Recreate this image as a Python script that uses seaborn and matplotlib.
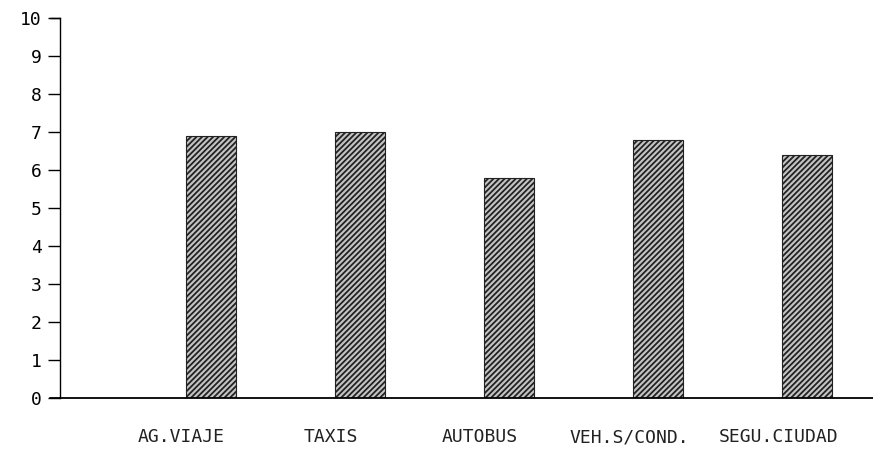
import seaborn as sns
import pandas as pd
import matplotlib.pyplot as plt
from matplotlib.transforms import ScaledTranslation

# values
categorias = ['AG.VIAJE', 'TAXIS', 'AUTOBUS', 'VEH.S/COND.', 'SEGU.CIUDAD']
valores = [6.9, 7.0, 5.8, 6.8, 6.4]
y_ticks = list(range(0, 11))

df = pd.DataFrame({'cat': categorias, 'val': valores})

sns.set_style('white')
plt.rcParams['font.family'] = ['DejaVu Sans Mono']
plt.rcParams['hatch.linewidth'] = 1.3

fig = plt.figure(figsize=(8.73, 4.57), dpi=100)
ax = fig.add_axes([60 / 873, 59 / 457, 813 / 873, 380 / 457])

sns.barplot(data=df, x='cat', y='val', ax=ax, width=0.335,
            color='#c4c4c4', edgecolor='#222222', linewidth=0.8,
            hatch='//////', saturation=1)

ax.set_xlim(-1.01, 4.44)
ax.set_ylim(0, 10)
ax.set_xlabel('')
ax.set_ylabel('')

ax.set_yticks(y_ticks)
ax.set_yticklabels([str(t) for t in y_ticks], fontsize=13, color='#222222')
ax.tick_params(axis='y', direction='out', length=9, width=1, pad=4, left=True, colors='black')
ax.tick_params(axis='x', length=0, pad=32, labelsize=13)

# labels sit a little left of the bars in the original
offset = ScaledTranslation(-29 / 100, 0, fig.dpi_scale_trans)
for lab in ax.get_xticklabels():
    lab.set_transform(lab.get_transform() + offset)
    lab.set_verticalalignment('baseline')
    lab.set_color('#222222')

for s in ['top', 'right']:
    ax.spines[s].set_visible(False)
ax.spines['left'].set_color('black')
ax.spines['left'].set_linewidth(1)
ax.spines['bottom'].set_color('black')
ax.spines['bottom'].set_linewidth(1.3)
# short hook at the top of the y axis and the base line running past the axis
ax.plot([-1.01 - 0.065, -1.01], [10, 10], color='black', lw=1, clip_on=False)
ax.plot([-1.01 - 0.07, -1.01], [0, 0], color='black', lw=1.3, clip_on=False)

plt.savefig('out.png', dpi=100)
plt.close()
